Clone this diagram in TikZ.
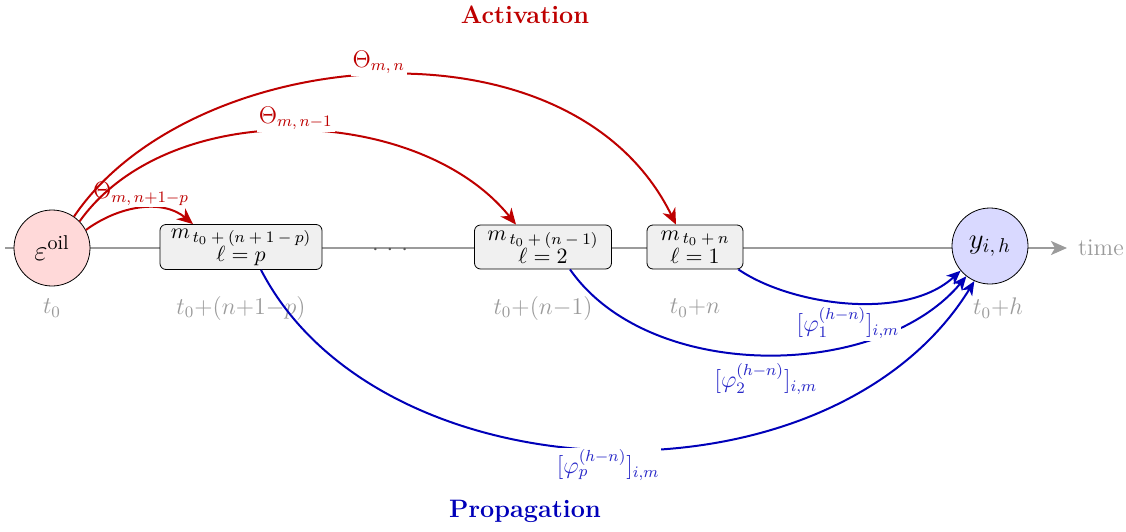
\documentclass[tikz,border=0pt]{standalone}
\usepackage{amsmath, amssymb}
\usetikzlibrary{arrows.meta, positioning, calc}
\definecolor{activ}{RGB}{190,0,0}
\definecolor{propag}{RGB}{0,0,185}
\definecolor{propaglab}{RGB}{40,40,200}
\definecolor{tiempo}{RGB}{155,155,155}
\newcommand{\lagsub}[1]{\mbox{\footnotesize$#1$}}
\tikzset{
  shockcirc/.style={circle, draw=black, fill=red!15, minimum size=38pt,
                    inner sep=0pt, font=\Large},
  respcirc/.style={circle, draw=black, fill=blue!15, minimum size=38pt,
                   inner sep=0pt, font=\Large},
  lagbox/.style={rectangle, draw=black, fill=black!6, rounded corners=3pt,
                 minimum height=22pt, align=center, inner sep=1pt,
                 font=\fontsize{11}{13}\selectfont},
  tlab/.style={text=tiempo},
  titulo/.style={font=\fontsize{12.6}{15}\selectfont\bfseries},
  actflecha/.style={-{Stealth[length=8pt, width=7pt, inset=2.5pt]}, line width=1pt, activ},
  propflecha/.style={-{Stealth[length=7pt, width=6pt, inset=2pt]}, line width=1pt, propag},
  actlab/.style={text=activ, fill=white, inner sep=1pt},
  proplab/.style={text=propaglab, fill=white, inner sep=1pt}
}
\begin{document}
\begin{tikzpicture}[x=0.5pt, y=0.5pt, every node/.style={font=\large}]
    \useasboundingbox (0,0) rectangle (1126,-531);
    % time axis
    \coordinate (inicio) at (5,-248);
    \node[tlab, anchor=west] (time) at (1071,-248) {time};
    \draw[tiempo, line width=1pt, -{Stealth[length=8pt, width=7pt, inset=2pt]}, shorten >=2pt]
          (inicio) -- (time.west);
    \node[text=black!65] (puntos) at (390,-250) {$\cdot$\hspace{4pt}$\cdot$\hspace{4pt}$\cdot$};
    % nodes
    \node[shockcirc] (eps) at (52,-248) {$\varepsilon^{\text{oil}}$};
    \node[respcirc] (resp) at (990,-246) {$y_{i,\,h}$};
    \node[lagbox, minimum width=81pt, minimum height=22.5pt] (lagp) at (241,-247)
          {$m_{\,\lagsub{t_0+(n+1-p)}}$\\[-1.5pt]$\ell = p$};
    \node[lagbox, minimum width=68.5pt] (lag2) at (543,-247)
          {$m_{\,\lagsub{t_0+(n-1)}}$\\[-1.5pt]$\ell = 2$};
    \node[lagbox, minimum width=48pt] (lag1) at (695,-247)
          {$m_{\,\lagsub{t_0+n}}$\\[-1.5pt]$\ell = 1$};
    % dates
    \node[tlab] (leps)  at (52,-308)  {$t_0$};
    \node[tlab] (llagp) at (241,-308) {$t_0{+}(n{+}1{-}p)$};
    \node[tlab] (llag2) at (543,-308) {$t_0{+}(n{-}1)$};
    \node[tlab] (llag1) at (695,-308) {$t_0{+}n$};
    \node[tlab] (lresp) at (998,-308) {$t_0{+}h$};
    % titles
    \node[titulo, text=activ] (titact) at (525,-15) {Activation};
    \node[titulo, text=propag] (titprop) at (525,-511) {Propagation};
    % activation
    \draw[actflecha] (eps.28) .. controls (120,-205) and (163,-199) .. ([xshift=-24pt]lagp.north)
          node[actlab, pos=0.5, above=0pt] {$\Theta_{m,\,n+1-p}$};
    \draw[actflecha] (eps.44) .. controls (170,-95) and (420,-105) .. ([xshift=-13.5pt]lag2.north)
          node[actlab, pos=0.5, above=-1pt] {$\Theta_{m,\,n-1}$};
    \draw[actflecha] (eps.55) .. controls (190,-45) and (570,-8) .. ([xshift=-9.5pt]lag1.north)
          node[actlab, pos=0.5, above=-1pt] {$\Theta_{m,\,n}$};
    % propagation
    \draw[propflecha] ([xshift=10pt]lagp.south) .. controls (380,-500) and (830,-515) .. (resp.246)
          node[proplab, pos=0.5, below=-1.5pt] {$[\varphi^{(h-n)}_p]_{i,m}$};
    \draw[propflecha] ([xshift=13.5pt]lag2.south) .. controls (650,-384) and (880,-380) .. (resp.232)
          node[proplab, pos=0.5, below=3pt] {$[\varphi^{(h-n)}_2]_{i,m}$};
    \draw[propflecha] ([xshift=-2.5pt]lag1.south east) .. controls (790,-305) and (905,-322) .. (resp.220)
          node[proplab, pos=0.5, below=1pt] {$[\varphi^{(h-n)}_1]_{i,m}$};
\end{tikzpicture}
\end{document}
